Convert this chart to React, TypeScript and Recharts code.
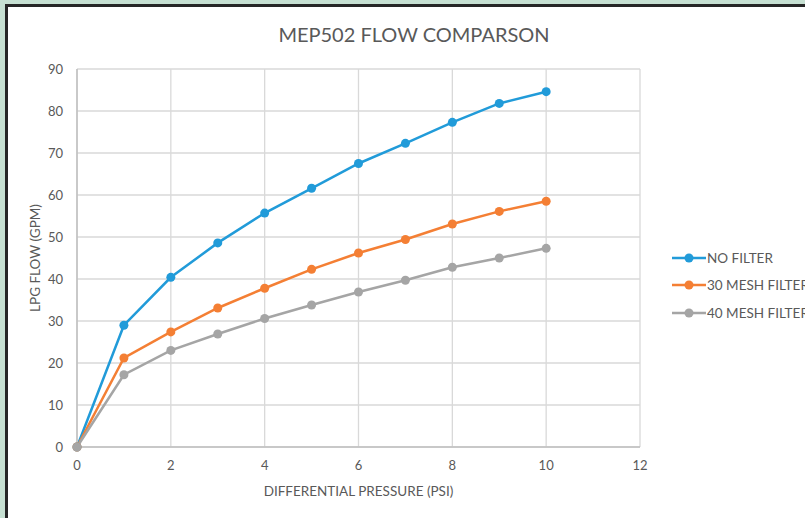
import React from "react";
import { LineChart, Line, XAxis, YAxis, CartesianGrid } from "recharts";

const pressure = [0, 1, 2, 3, 4, 5, 6, 7, 8, 9, 10];
const noFilter = [0, 29.0, 40.4, 48.6, 55.7, 61.6, 67.5, 72.3, 77.3, 81.8, 84.6];
const mesh30 = [0, 21.2, 27.4, 33.1, 37.8, 42.3, 46.2, 49.4, 53.1, 56.1, 58.5];
const mesh40 = [0, 17.2, 23.0, 26.9, 30.6, 33.8, 36.9, 39.7, 42.8, 45.0, 47.3];

const xTicks = [0, 2, 4, 6, 8, 10, 12];
const yTicks = [0, 10, 20, 30, 40, 50, 60, 70, 80, 90];

const SERIES = [
  { key: "noFilter", name: "NO FILTER", color: "#219bd9" },
  { key: "mesh30", name: "30 MESH FILTER", color: "#f47f34" },
  { key: "mesh40", name: "40 MESH FILTER", color: "#a5a5a5" },
];

const data = pressure.map((p, i) => ({
  p,
  noFilter: noFilter[i],
  mesh30: mesh30[i],
  mesh40: mesh40[i],
}));

const FONT = "Lato, 'Open Sans', sans-serif";
const TEXT = "#595959";

const LegendBox = () => (
  <div style={{ fontFamily: FONT, fontSize: 13.5, color: TEXT }}>
    {SERIES.map((s) => (
      <div key={s.key} style={{ display: "flex", alignItems: "center", height: 27.5, whiteSpace: "nowrap" }}>
        <svg width={35} height={12}>
          <line x1={0} y1={6} x2={34} y2={6} stroke={s.color} strokeWidth={2.5} />
          <circle cx={17} cy={6} r={4.5} fill={s.color} />
        </svg>
        <span>{s.name}</span>
      </div>
    ))}
  </div>
);

export default function App() {
  return (
    <div
      style={{
        position: "absolute",
        left: 0,
        top: 0,
        width: 805,
        height: 518,
        background: "#c6e0d2",
        overflow: "hidden",
      }}
    >
      <div
        style={{
          position: "absolute",
          left: 5,
          top: 4,
          width: 820,
          height: 540,
          background: "#ffffff",
          borderTop: "3px solid #262626",
          borderLeft: "3px solid #262626",
        }}
      />
      <div
        style={{
          position: "absolute",
          left: 0,
          width: 828,
          top: 22,
          textAlign: "center",
          fontFamily: FONT,
          fontSize: 20,
          color: TEXT,
        }}
      >
        MEP502 FLOW COMPARSON
      </div>
      <div
        style={{
          position: "absolute",
          left: 77,
          width: 563,
          top: 483,
          textAlign: "center",
          fontFamily: FONT,
          fontSize: 13.5,
          color: TEXT,
        }}
      >
        DIFFERENTIAL PRESSURE (PSI)
      </div>
      <div
        style={{
          position: "absolute",
          left: 35,
          top: 258,
          transform: "translate(-50%, -50%) rotate(-90deg)",
          whiteSpace: "nowrap",
          fontFamily: FONT,
          fontSize: 13.5,
          color: TEXT,
        }}
      >
        LPG FLOW (GPM)
      </div>
      <div style={{ position: "absolute", left: 0, top: 0 }}>
        <LineChart
          width={805}
          height={518}
          data={data}
          margin={{ top: 69, right: 165, left: 37, bottom: 41 }}
        >
          <CartesianGrid stroke="#d9d9d9" strokeWidth={1.3} />
          <XAxis
            dataKey="p"
            type="number"
            domain={[0, 12]}
            ticks={xTicks}
            height={30}
            tickSize={0}
            tickMargin={14}
            tickLine={false}
            stroke="#bfbfbf"
            strokeWidth={1.5}
            tick={{ fill: TEXT, fontSize: 13, fontFamily: FONT }}
          />
          <YAxis
            type="number"
            domain={[0, 90]}
            ticks={yTicks}
            width={40}
            tickSize={0}
            tickMargin={14}
            tickLine={false}
            stroke="#bfbfbf"
            strokeWidth={1.5}
            tick={{ fill: TEXT, fontSize: 13, fontFamily: FONT }}
          />
          {SERIES.map((s) => (
            <Line
              key={s.key}
              dataKey={s.key}
              name={s.name}
              stroke={s.color}
              strokeWidth={2.5}
              dot={{ r: 4.5, fill: s.color, stroke: s.color, strokeWidth: 0 }}
              activeDot={false}
              isAnimationActive={false}
            />
          ))}
        </LineChart>
      </div>
      <div style={{ position: "absolute", left: 672, top: 244 }}>
        <LegendBox />
      </div>
    </div>
  );
}
